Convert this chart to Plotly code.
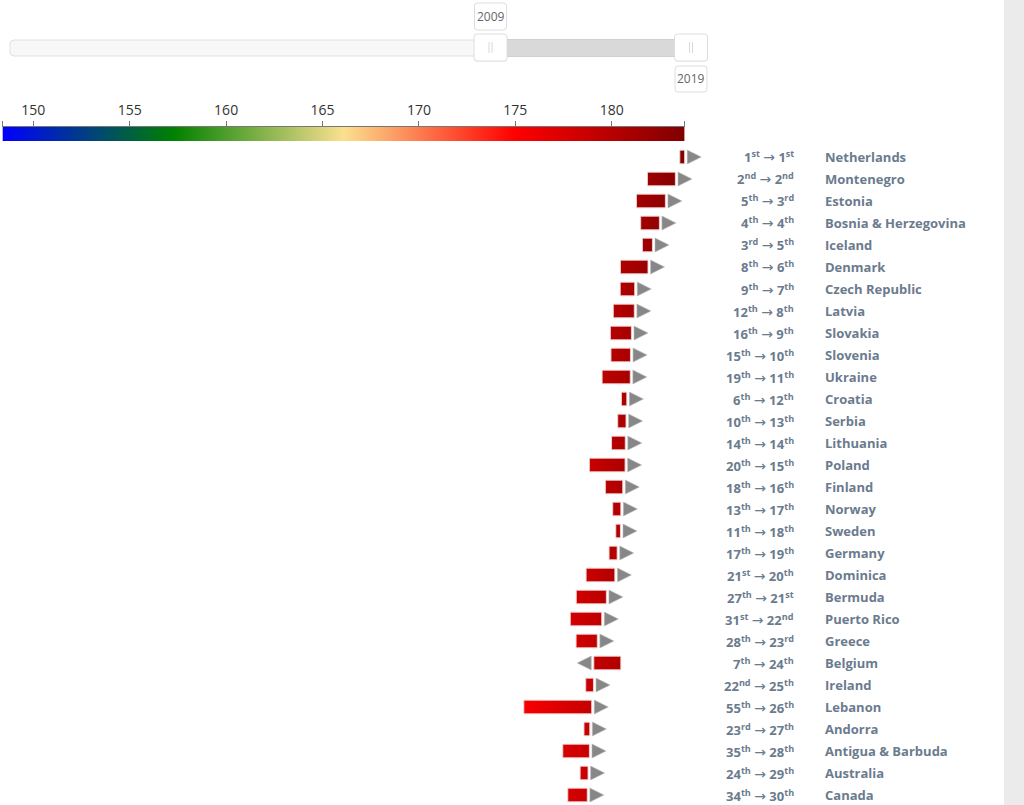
import plotly.graph_objects as go

W, H = 1024, 805

# ---------------- data ----------------
countries = ["Netherlands", "Montenegro", "Estonia", "Bosnia & Herzegovina", "Iceland",
             "Denmark", "Czech Republic", "Latvia", "Slovakia", "Slovenia",
             "Ukraine", "Croatia", "Serbia", "Lithuania", "Poland",
             "Finland", "Norway", "Sweden", "Germany", "Dominica",
             "Bermuda", "Puerto Rico", "Greece", "Belgium", "Ireland",
             "Lebanon", "Andorra", "Antigua & Barbuda", "Australia", "Canada"]
rank_2009 = [1, 2, 5, 4, 3, 8, 9, 12, 16, 15, 19, 6, 10, 14, 20,
             18, 13, 11, 17, 21, 27, 31, 28, 7, 22, 55, 23, 35, 24, 34]
rank_2019 = [1, 2, 3, 4, 5, 6, 7, 8, 9, 10, 11, 12, 13, 14, 15,
             16, 17, 18, 19, 20, 21, 22, 23, 24, 25, 26, 27, 28, 29, 30]
height_2009 = [183.53, 181.85, 181.28, 181.50, 181.59, 180.45, 180.44, 180.08, 179.93, 179.96,
               179.50, 180.50, 180.31, 179.99, 178.84, 179.67, 180.05, 180.21, 179.86, 178.67,
               178.16, 177.85, 178.15, 180.47, 178.65, 175.44, 178.56, 177.46, 178.36, 177.72]
height_2019 = [183.78, 183.30, 182.78, 182.47, 182.11, 181.88, 181.19, 181.17, 181.02, 180.97,
               180.96, 180.78, 180.74, 180.70, 180.69, 180.57, 180.47, 180.45, 180.28, 180.16,
               179.72, 179.48, 179.25, 179.07, 179.05, 178.96, 178.86, 178.84, 178.77, 178.73]
year_range = [1985, 2019]
year_selected = [2009, 2019]
color_ticks = [150, 155, 160, 165, 170, 175, 180]
scale_colors = ["#0000ff", "#008000", "#fbe08f", "#ff0000", "#800000"]
scale_min, scale_max = 148.4, 183.78

# ---------------- layout constants ----------------
X_LO, X_HI = 148.273, 201.38          # main x-range across full width
Y_TOP, Y_BOT = -7.136, 29.4545        # row axis (row i centred at 157+22i px)
BAR_HALF = 0.31
ARROW_GAP = 0.86
TXT = "#6b7b8e"


def px(x):
    return x / W


def py(y):
    return 1 - y / H


def rrect(x0, y0, x1, y1, r):
    return (f"M{px(x0 + r)},{py(y0)} L{px(x1 - r)},{py(y0)} Q{px(x1)},{py(y0)} {px(x1)},{py(y0 + r)} "
            f"L{px(x1)},{py(y1 - r)} Q{px(x1)},{py(y1)} {px(x1 - r)},{py(y1)} "
            f"L{px(x0 + r)},{py(y1)} Q{px(x0)},{py(y1)} {px(x0)},{py(y1 - r)} "
            f"L{px(x0)},{py(y0 + r)} Q{px(x0)},{py(y0)} {px(x0 + r)},{py(y0)} Z")


def ordinal(n):
    if 10 <= n % 100 <= 20:
        s = "th"
    else:
        s = {1: "st", 2: "nd", 3: "rd"}.get(n % 10, "th")
    return f"{n}<sup>{s}</sup>"


ARROW_TXT = '<span style="font-family:DejaVu Sans;font-weight:normal;font-size:14px">→</span>'

n = len(countries)
colorscale = [[k / (len(scale_colors) - 1), c] for k, c in enumerate(scale_colors)]
gradient = dict(type="horizontal", colorscale=colorscale, start=scale_min, stop=scale_max)

fig = go.Figure()

# colour scale strip
fig.add_trace(go.Scatter(
    x=[scale_min, scale_max, scale_max, scale_min, scale_min],
    y=[-1.377, -1.377, -0.727, -0.727, -1.377],
    xaxis="x2", yaxis="y", mode="lines", fill="toself",
    line=dict(width=0), fillgradient=gradient, hoverinfo="skip"))

# bars from 2009 to 2019
bx, by = [], []
for i, (a, b) in enumerate(zip(height_2009, height_2019)):
    lo, hi = min(a, b), max(a, b)
    bx += [lo, hi, hi, lo, lo, None]
    by += [i - BAR_HALF, i - BAR_HALF, i + BAR_HALF, i + BAR_HALF, i - BAR_HALF, None]
fig.add_trace(go.Scatter(
    x=bx, y=by, mode="lines", fill="toself",
    line=dict(width=1, color="rgba(235,215,215,0.9)"),
    fillgradient=gradient, hoverinfo="skip"))

# direction arrows
ax, ay, asym = [], [], []
for i, (a, b) in enumerate(zip(height_2009, height_2019)):
    d = 1 if b >= a else -1
    ax.append(b + d * ARROW_GAP)
    ay.append(i)
    asym.append("arrow-right" if d > 0 else "arrow-left")
fig.add_trace(go.Scatter(
    x=ax, y=ay, mode="markers", cliponaxis=False,
    marker=dict(symbol=asym, size=14, color="#878787",
                line=dict(width=0.6, color="#bbbbbb")),
    hoverinfo="skip"))

annotations = []
for i in range(n):
    annotations.append(dict(
        x=796 / W, xref="paper", y=i, yref="y", xanchor="right", yanchor="middle",
        text=f"{ordinal(rank_2009[i])} {ARROW_TXT} {ordinal(rank_2019[i])}", showarrow=False,
        font=dict(family="Open Sans", size=13, color=TXT, weight="bold")))
    annotations.append(dict(
        x=823 / W, xref="paper", y=i, yref="y", xanchor="left", yanchor="middle",
        text=countries[i], showarrow=False,
        font=dict(family="Open Sans", size=13, color=TXT, weight="bold")))

# ---------------- year range slider (decoration) ----------------
def year_px(yr):
    return 691 - (year_range[1] - yr) * 20.05


h0, h1 = year_px(year_selected[0]), year_px(year_selected[1])
shapes = [
    dict(type="rect", xref="paper", yref="paper", x0=px(1004), x1=1, y0=0, y1=1,
         fillcolor="#ebebeb", line=dict(width=0), layer="below"),
    dict(type="path", xref="paper", yref="paper", path=rrect(10, 40, 707, 56, 4),
         fillcolor="#f8f8f8", line=dict(color="#e0e0e0", width=1)),
    dict(type="rect", xref="paper", yref="paper", x0=px(h0), x1=px(h1), y0=py(56.5), y1=py(39.5),
         fillcolor="#d9d9d9", line=dict(color="#cfcfcf", width=1)),
]
for hc, (ly0, ly1), yr in [(h0, (3, 30), year_selected[0]), (h1, (66, 92), year_selected[1])]:
    shapes.append(dict(type="path", xref="paper", yref="paper",
                       path=rrect(hc - 16.5, 35, hc + 16.5, 62, 3),
                       fillcolor="rgba(0,0,0,0.05)", line=dict(width=0)))
    shapes.append(dict(type="path", xref="paper", yref="paper",
                       path=rrect(hc - 16.5, 34, hc + 16.5, 61, 3),
                       fillcolor="#ffffff", line=dict(color="#dedede", width=1)))
    for gx in (hc - 1.5, hc + 1.5):
        shapes.append(dict(type="line", xref="paper", yref="paper",
                           x0=px(gx), x1=px(gx), y0=py(42), y1=py(53),
                           line=dict(color="#d8d8d8", width=1)))
    shapes.append(dict(type="path", xref="paper", yref="paper",
                       path=rrect(hc - 16, ly0, hc + 16, ly1, 3),
                       fillcolor="#ffffff", line=dict(color="#dedede", width=1)))
    annotations.append(dict(x=px(hc), y=py((ly0 + ly1) / 2), xref="paper", yref="paper",
                            text=str(yr), showarrow=False, xanchor="center", yanchor="middle",
                            font=dict(family="Open Sans", size=12, color="#666666")))

tick_vals = [scale_min] + color_ticks + [scale_max]
tick_text = [""] + [str(t) for t in color_ticks] + [""]
cb_x0 = (scale_min - X_LO) / (X_HI - X_LO)
cb_x1 = (scale_max - X_LO) / (X_HI - X_LO)

fig.update_layout(
    width=W, height=H, margin=dict(l=0, r=0, t=0, b=0),
    paper_bgcolor="#ffffff", plot_bgcolor="rgba(0,0,0,0)",
    showlegend=False,
    xaxis=dict(domain=[0, 1], range=[X_LO, X_HI], visible=False, fixedrange=True),
    xaxis2=dict(domain=[cb_x0, cb_x1],
                range=[scale_min, scale_max], anchor="free", position=py(125.5),
                side="top", showgrid=False, zeroline=False, showline=True, linecolor="#777777",
                linewidth=1, ticks="outside", ticklen=5, tickcolor="#777777",
                tickvals=tick_vals, ticktext=tick_text,
                tickfont=dict(family="Open Sans", size=14, color="#333333"), fixedrange=True),
    yaxis=dict(domain=[0, 1], range=[Y_BOT, Y_TOP], visible=False, fixedrange=True),
    shapes=shapes, annotations=annotations,
)

fig.write_html("out.html")
